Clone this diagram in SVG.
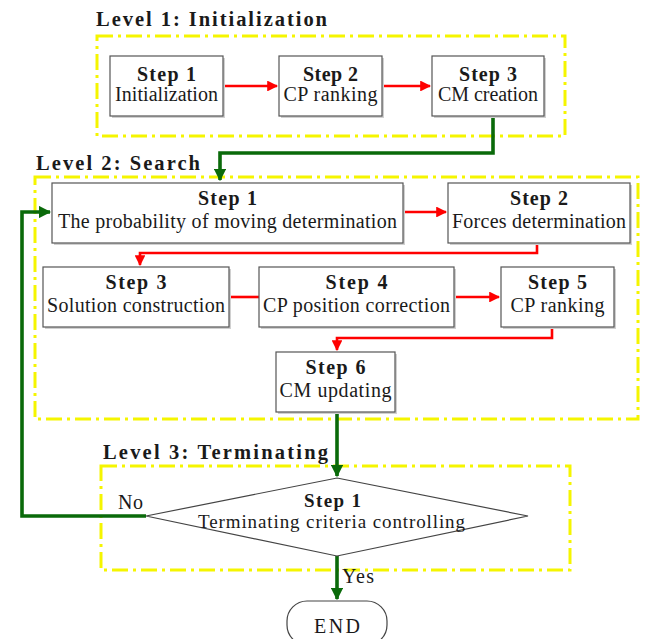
<svg xmlns="http://www.w3.org/2000/svg" width="647" height="639" viewBox="0 0 647 639">
<style>
.t{font-family:"Liberation Serif","Times New Roman",serif;font-size:20px;fill:#1a1a1a}
.b{font-weight:bold}
.lv{font-family:"Liberation Serif","Times New Roman",serif;font-size:20.5px;font-weight:bold;fill:#1a1a1a}
.box{fill:#fff;stroke:#555;stroke-width:1.2}
.sh{fill:#d0d0d0}
.yl{fill:none;stroke:#f5f500;stroke-width:3;stroke-dasharray:16 5 3 5}
.red{fill:none;stroke:#ff0000;stroke-width:2.6}
.grn{fill:none;stroke:#0a6a0a;stroke-width:3.6}
</style>
<defs>
<marker id="ar" viewBox="0 0 10 10" refX="9" refY="5" markerWidth="4.2" markerHeight="4.2" orient="auto" markerUnits="strokeWidth">
<path d="M0,0 L10,5 L0,10 z" fill="#ff0000"/>
</marker>
<marker id="ag" viewBox="0 0 10 10" refX="9" refY="5" markerWidth="3.4" markerHeight="3.4" orient="auto" markerUnits="strokeWidth">
<path d="M0,0 L10,5 L0,10 z" fill="#0a6a0a"/>
</marker>
</defs>

<g id="levels">
<text class="lv" x="96" y="26" textLength="231">Level 1: Initialization</text>
<rect class="yl" x="97" y="36" width="468" height="100"/>
<text class="lv" x="36" y="170" textLength="164">Level 2: Search</text>
<rect class="yl" x="35" y="177" width="603" height="242"/>
<text class="lv" x="103" y="459" textLength="225">Level 3: Terminating</text>
<rect class="yl" x="101" y="466" width="469" height="104"/>
</g>

<g id="connectors">
<path class="red" d="M223,86 H277" marker-end="url(#ar)"/>
<path class="red" d="M382,86 H430" marker-end="url(#ar)"/>
<path class="grn" d="M493,116 V153 H220 V180" marker-end="url(#ag)"/>
<path class="red" d="M403,212 H446" marker-end="url(#ar)"/>
<path class="red" d="M537,243 V253 H140 V265" marker-end="url(#ar)"/>
<path class="red" d="M229,297 H259"/>
<path class="red" d="M454,297 H499" marker-end="url(#ar)"/>
<path class="red" d="M552,327 V338 H337 V350" marker-end="url(#ar)"/>
<path class="grn" d="M337,412 V476" marker-end="url(#ag)"/>
<path class="grn" d="M146,516 H22 V212 H50" marker-end="url(#ag)"/>
<path class="grn" d="M337,556 V599" marker-end="url(#ag)"/>
<text class="t" x="118" y="509" textLength="25">No</text>
<text class="t" x="342" y="583" textLength="32">Yes</text>
</g>

<g id="l1s1">
<rect class="sh" x="112" y="58" width="113" height="60"/>
<rect class="box" x="110" y="56" width="113" height="60"/>
<text class="t b" x="166.5" y="81" text-anchor="middle" textLength="59">Step 1</text>
<text class="t" x="166.5" y="101" text-anchor="middle" textLength="103">Initialization</text>
</g>
<g id="l1s2">
<rect class="sh" x="281" y="58" width="103" height="60"/>
<rect class="box" x="279" y="56" width="103" height="60"/>
<text class="t b" x="330.5" y="81" text-anchor="middle" textLength="55">Step 2</text>
<text class="t" x="330.5" y="101" text-anchor="middle" textLength="94">CP ranking</text>
</g>
<g id="l1s3">
<rect class="sh" x="434" y="58" width="112" height="60"/>
<rect class="box" x="432" y="56" width="112" height="60"/>
<text class="t b" x="488" y="81" text-anchor="middle" textLength="58">Step 3</text>
<text class="t" x="488" y="101" text-anchor="middle" textLength="100">CM creation</text>
</g>

<g id="l2s1">
<rect class="sh" x="54" y="185" width="351" height="60"/>
<rect class="box" x="52" y="183" width="351" height="60"/>
<text class="t b" x="227.5" y="205" text-anchor="middle" textLength="59">Step 1</text>
<text class="t" x="227.5" y="228" text-anchor="middle" textLength="339">The probability of moving determination</text>
</g>
<g id="l2s2">
<rect class="sh" x="450" y="185" width="182" height="60"/>
<rect class="box" x="448" y="183" width="182" height="60"/>
<text class="t b" x="539" y="205" text-anchor="middle" textLength="58">Step 2</text>
<text class="t" x="539" y="228" text-anchor="middle" textLength="174">Forces determination</text>
</g>
<g id="l2s3">
<rect class="sh" x="45" y="269" width="186" height="60"/>
<rect class="box" x="43" y="267" width="186" height="60"/>
<text class="t b" x="136" y="289" text-anchor="middle" textLength="61">Step 3</text>
<text class="t" x="136" y="312" text-anchor="middle" textLength="178">Solution construction</text>
</g>
<g id="l2s4">
<rect class="sh" x="261" y="269" width="195" height="60"/>
<rect class="box" x="259" y="267" width="195" height="60"/>
<text class="t b" x="356.5" y="289" text-anchor="middle" textLength="62">Step 4</text>
<text class="t" x="356.5" y="312" text-anchor="middle" textLength="187">CP position correction</text>
</g>
<g id="l2s5">
<rect class="sh" x="503" y="269" width="113" height="60"/>
<rect class="box" x="501" y="267" width="113" height="60"/>
<text class="t b" x="557.5" y="289" text-anchor="middle" textLength="59">Step 5</text>
<text class="t" x="557.5" y="312" text-anchor="middle" textLength="94">CP ranking</text>
</g>
<g id="l2s6">
<rect class="sh" x="278" y="354" width="119" height="60"/>
<rect class="box" x="276" y="352" width="119" height="60"/>
<text class="t b" x="335.5" y="374" text-anchor="middle" textLength="60">Step 6</text>
<text class="t" x="335.5" y="397" text-anchor="middle" textLength="112">CM updating</text>
</g>

<g id="l3s1">
<polygon points="337,478 528,516 337,556 146,516" fill="#fff" stroke="#444" stroke-width="1.2"/>
<text class="t b" x="332.5" y="507" text-anchor="middle" textLength="57" style="font-size:19px">Step 1</text>
<text class="t" x="331.5" y="528" text-anchor="middle" textLength="267" style="font-size:19px">Terminating criteria controlling</text>
</g>

<g id="end">
<rect x="287" y="601" width="100" height="44" rx="20" ry="20" fill="#fff" stroke="#444" stroke-width="1.2"/>
<text class="t" x="337" y="633" text-anchor="middle" textLength="46">END</text>
</g>
</svg>
